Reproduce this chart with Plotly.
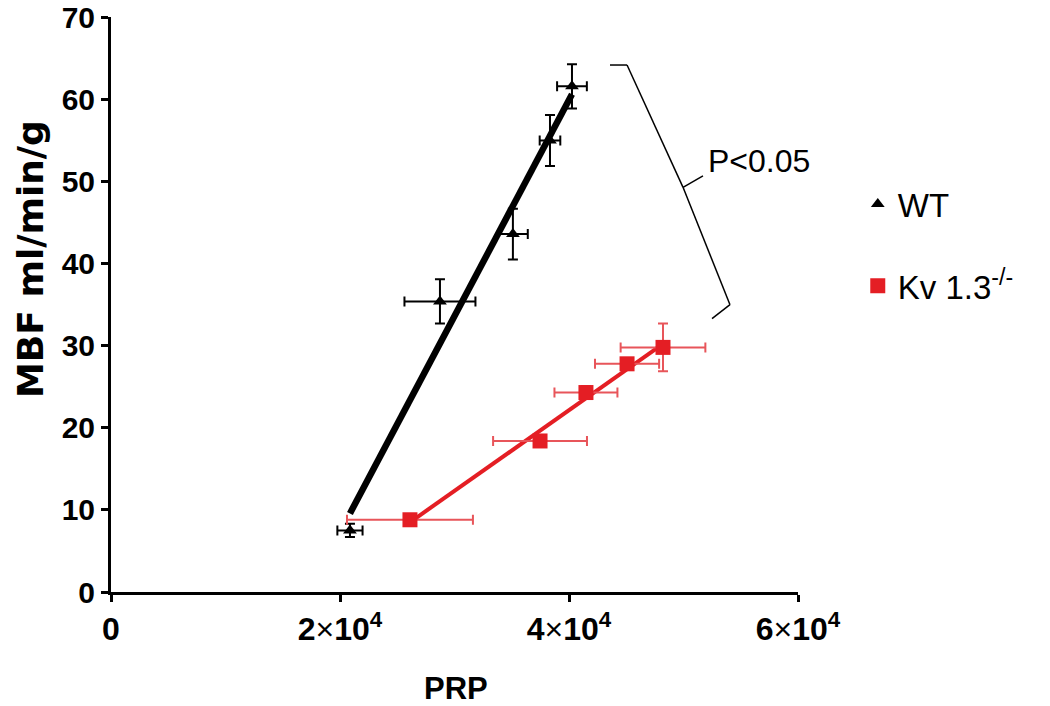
import numpy as np
import plotly.graph_objects as go

# WT data
wt_x = [20870, 28730, 35100, 38340, 40260]
wt_y = [7.5, 35.4, 43.6, 55.0, 61.6]
wt_xerr = [1100, 3100, 1300, 900, 1300]
wt_yerr = [0.8, 2.7, 3.1, 3.1, 2.7]

# Kv1.3-/- data
kv_x = [26110, 37470, 41480, 45070, 48210]
kv_y = [8.8, 18.4, 24.3, 27.8, 29.8]
kv_xerr = [5500, 4100, 2750, 2800, 3700]
kv_yerr = [0.5, 0.5, 0.8, 0.6, 2.9]

x_tickvals = [0, 20000, 40000, 60000]
x_ticktext = ["<b>0</b>", "<b>2</b>×<b>10<sup>4</sup></b>", "<b>4</b>×<b>10<sup>4</sup></b>", "<b>6</b>×<b>10<sup>4</sup></b>"]
y_tickvals = [0, 10, 20, 30, 40, 50, 60, 70]
y_ticktext = ["<b>%d</b>" % v for v in y_tickvals]

BLACK = "#000000"
RED = "#e41e24"
RED_ERR = "#e8555a"
FONT = "Liberation Sans, Arial"

T, B_PIX, L, R_PIX = 17, 592, 111, 798
PH = B_PIX - T
PW = R_PIX - L

fig = go.Figure()

# regression lines
def fit_line(xs, ys):
    m, b = np.polyfit(xs, ys, 1)
    xx = np.array([min(xs), max(xs)])
    return xx, m * xx + b

wx, wy = fit_line(wt_x, wt_y)
kx, ky = fit_line(kv_x, kv_y)

fig.add_trace(go.Scatter(x=wx, y=wy, mode="lines", line=dict(color=BLACK, width=6.5),
                         showlegend=False, hoverinfo="skip"))
fig.add_trace(go.Scatter(x=kx, y=ky, mode="lines", line=dict(color=RED, width=4),
                         showlegend=False, hoverinfo="skip"))

fig.add_trace(go.Scatter(
    x=wt_x, y=wt_y, mode="markers", name="WT", legendgroup="wt",
    marker=dict(symbol="triangle-up", size=12, color=BLACK),
    error_x=dict(type="data", array=wt_xerr, color=BLACK, thickness=2, width=5),
    error_y=dict(type="data", array=wt_yerr, color=BLACK, thickness=2, width=5),
))
fig.add_trace(go.Scatter(
    x=kv_x, y=kv_y, mode="markers", name="Kv 1.3<sup>-/-</sup>", legendgroup="kv",
    marker=dict(symbol="square", size=15, color=RED),
    error_x=dict(type="data", array=kv_xerr, color=RED_ERR, thickness=2, width=5),
    error_y=dict(type="data", array=kv_yerr, color=RED_ERR, thickness=2, width=5),
))

# significance bracket
br = dict(type="line", xref="x", yref="y", line=dict(color=BLACK, width=1.5))
fig.add_shape(x0=43580, y0=64.2, x1=45070, y1=64.2, **br)
fig.add_shape(x0=45070, y0=64.2, x1=49960, y1=49.3, **br)
fig.add_shape(x0=49960, y0=49.3, x1=51700, y1=50.7, **br)
fig.add_shape(x0=49960, y0=49.3, x1=54060, y1=35.0, **br)
fig.add_shape(x0=54060, y0=35.0, x1=52490, y1=33.3, **br)

fig.add_annotation(x=52000, y=52.5, xref="x", yref="y", text="P<0.05", showarrow=False,
                   xanchor="left", yanchor="middle",
                   font=dict(family=FONT, size=32, color=BLACK))

# axis titles
fig.add_annotation(x=(30 - L) / PW, y=1 - (259 - T) / PH, xref="paper", yref="paper",
                   text="<b>MBF ml/min/g</b>", textangle=-90, showarrow=False,
                   xanchor="center", yanchor="middle",
                   font=dict(family="DejaVu Sans, Liberation Sans", size=36, color=BLACK))
fig.add_annotation(x=(456 - L) / PW, y=-(688 - B_PIX) / PH, xref="paper", yref="paper",
                   text="<b>PRP</b>", showarrow=False, xanchor="center", yanchor="middle",
                   font=dict(family=FONT, size=31, color=BLACK))

fig.update_layout(
    width=1050, height=706,
    margin=dict(l=L, r=1050 - R_PIX, t=T, b=706 - B_PIX),
    paper_bgcolor="white", plot_bgcolor="white",
    showlegend=True,
    legend=dict(x=1.087, y=1 - (176 - T) / PH, xanchor="left", yanchor="top",
                font=dict(family=FONT, size=33, color=BLACK),
                tracegroupgap=36, bgcolor="rgba(0,0,0,0)"),
    xaxis=dict(range=[0, 60000], tickvals=x_tickvals, ticktext=x_ticktext, automargin=False,
               showgrid=False, zeroline=False, showline=True, linecolor=BLACK, linewidth=3,
               ticks="outside", ticklen=7, tickwidth=2.5, tickcolor=BLACK,
               ticklabeloverflow="allow",
               tickfont=dict(family=FONT, size=32, color=BLACK)),
    yaxis=dict(range=[0, 70.05], tickvals=y_tickvals, ticktext=y_ticktext, automargin=False,
               showgrid=False, zeroline=False, showline=True, linecolor=BLACK, linewidth=3,
               ticks="outside", ticklen=7, tickwidth=2.5, tickcolor=BLACK,
               ticklabeloverflow="allow",
               tickfont=dict(family=FONT, size=30, color=BLACK)),
)

fig.write_html("out.html", config={"displayModeBar": False},
               post_script="document.body.style.margin='0';")
